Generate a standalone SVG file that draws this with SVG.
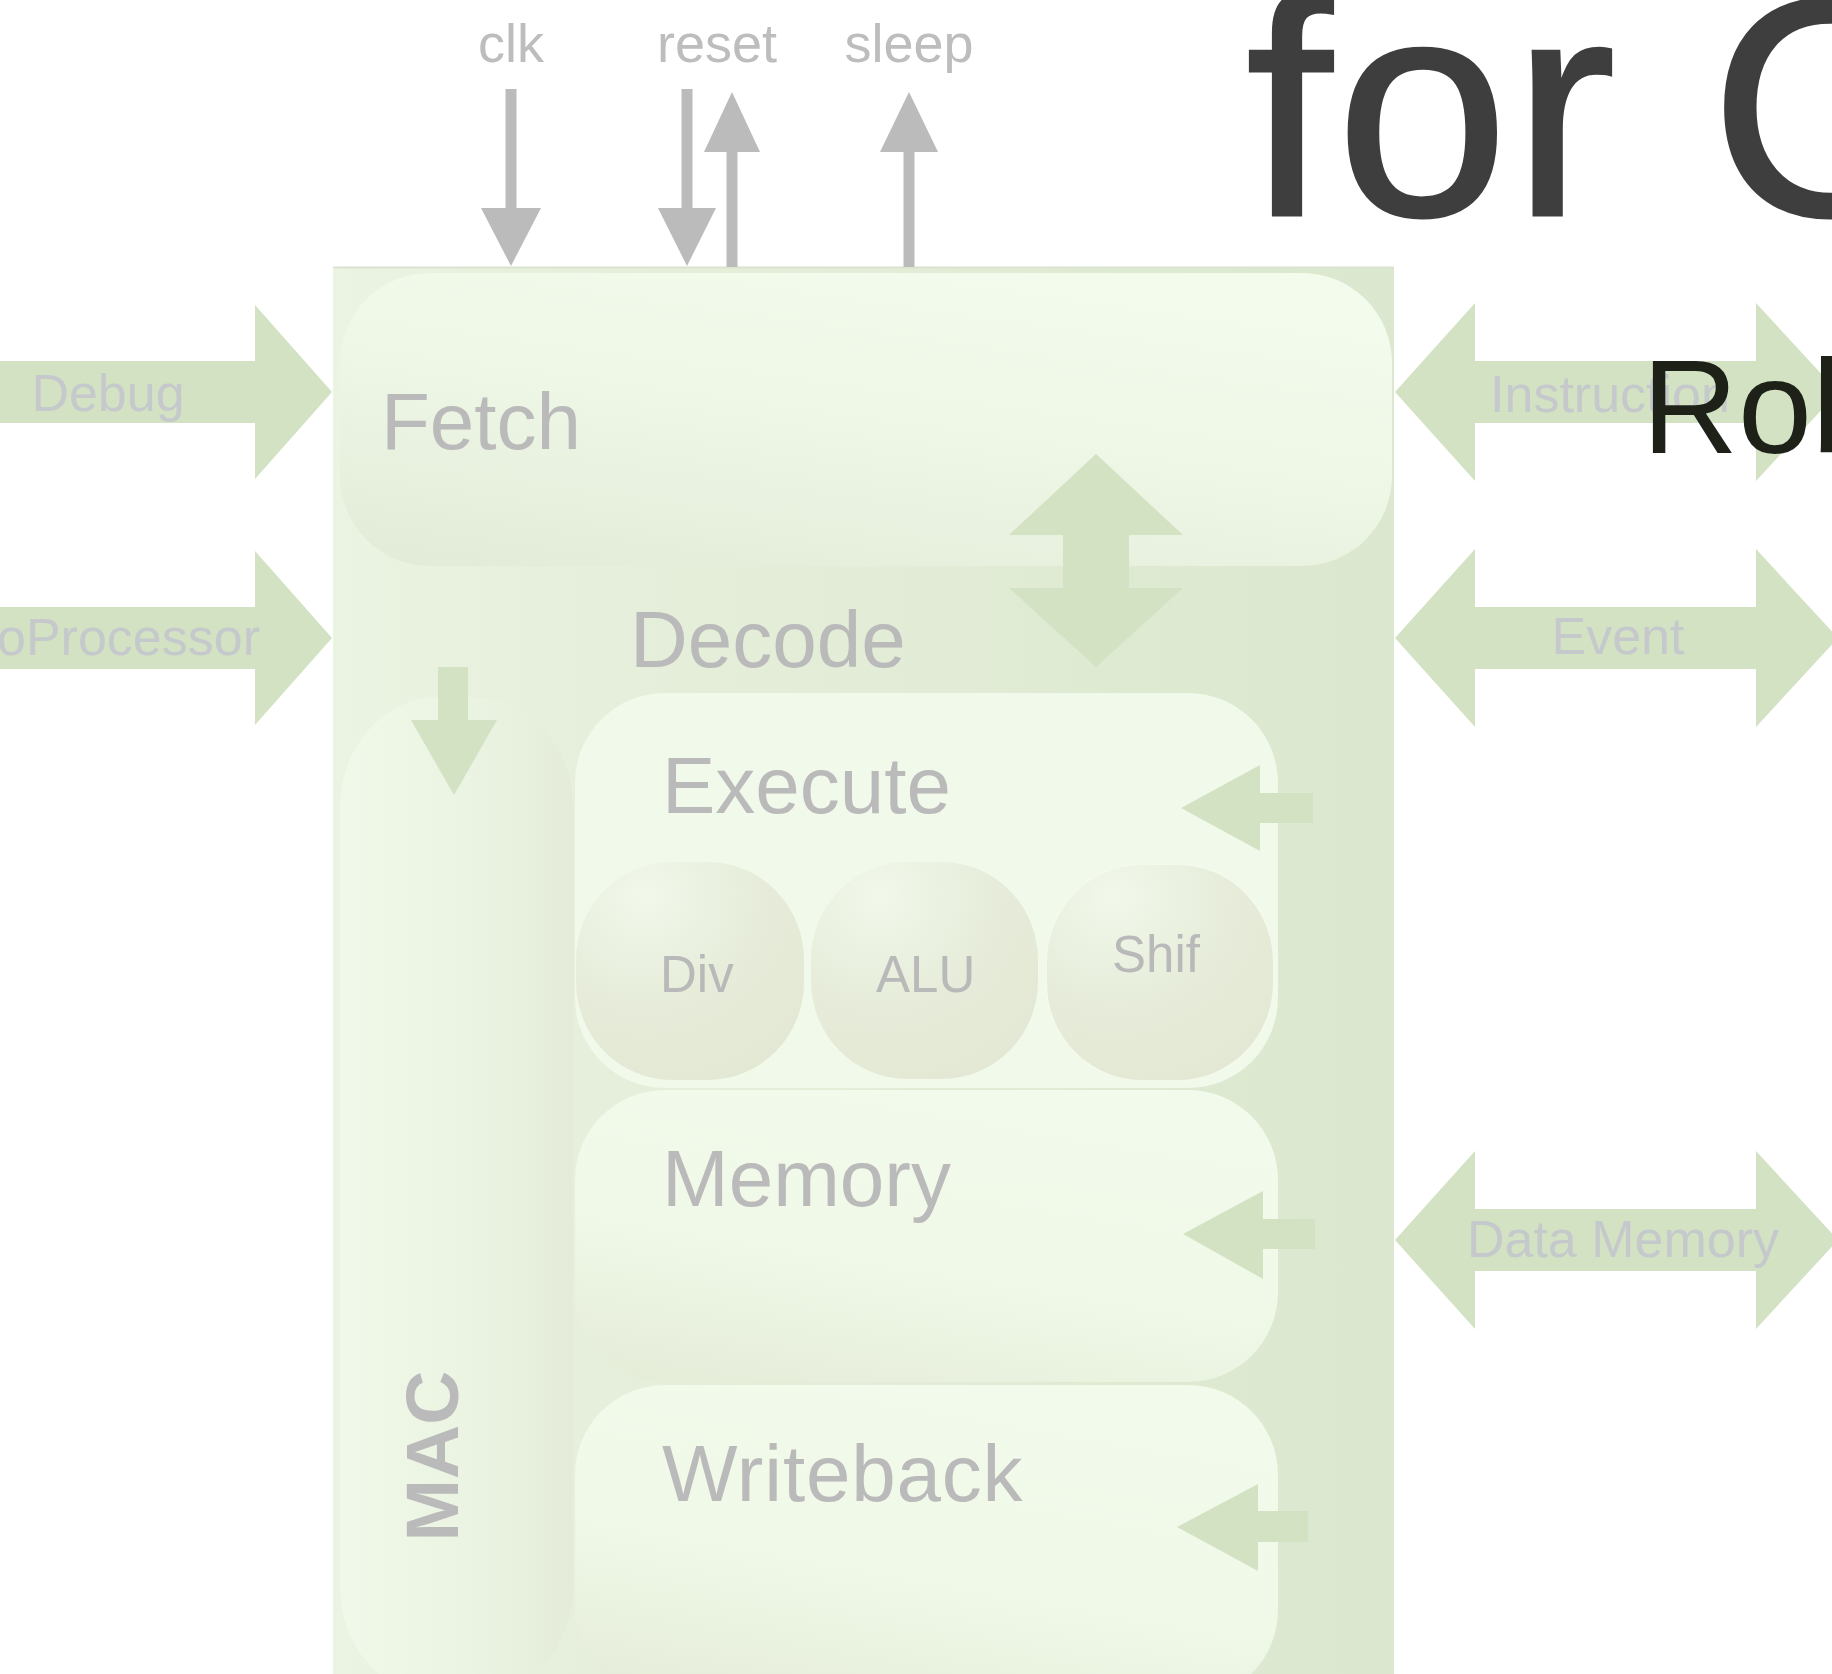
<svg xmlns="http://www.w3.org/2000/svg" width="1832" height="1674" viewBox="0 0 1832 1674">
  <defs>
    <linearGradient id="gCore" x1="0" y1="0" x2="1" y2="0">
      <stop offset="0" stop-color="#ebf3e2"/>
      <stop offset="0.25" stop-color="#e6efdb"/>
      <stop offset="1" stop-color="#dbe7ce"/>
    </linearGradient>
    <linearGradient id="gFetch" x1="0.1" y1="1" x2="0.6" y2="0">
      <stop offset="0" stop-color="#e3ecd8"/>
      <stop offset="0.55" stop-color="#eef6e6"/>
      <stop offset="1" stop-color="#f3fbec"/>
    </linearGradient>
    <linearGradient id="gStage" x1="0.1" y1="1" x2="0.5" y2="0">
      <stop offset="0" stop-color="#e5edd9"/>
      <stop offset="0.5" stop-color="#f0f8e8"/>
      <stop offset="1" stop-color="#f2faeb"/>
    </linearGradient>
    <linearGradient id="gMac" x1="0" y1="0" x2="1" y2="0">
      <stop offset="0" stop-color="#f0f8e9"/>
      <stop offset="0.55" stop-color="#ebf3e2"/>
      <stop offset="1" stop-color="#e4ecd9"/>
    </linearGradient>
    <radialGradient id="gUnit" cx="0.3" cy="0.15" r="0.95">
      <stop offset="0" stop-color="#f1f8ea"/>
      <stop offset="0.55" stop-color="#e6ecd9"/>
      <stop offset="1" stop-color="#e2e8d3"/>
    </radialGradient>
    <style>
      .stage { font-family: "Liberation Sans", Arial, sans-serif; font-size: 80px; fill: #bababa; }
      .unit { font-family: "Liberation Sans", Arial, sans-serif; font-size: 51px; fill: #b9b9b9; }
      .port { font-family: "Liberation Sans", Arial, sans-serif; font-size: 52px; fill: #c6c9cc; }
      .pin { font-family: "Liberation Sans", Arial, sans-serif; font-size: 54px; fill: #bdbdbd; }
      .bus { fill: #d3e2c3; }
      .wire { stroke: #bbbbbb; stroke-width: 11; fill: none; }
      .wirehead { fill: #bbbbbb; }
    </style>
  </defs>

  <rect width="1832" height="1674" fill="#ffffff"/>

  <!-- processor core outline -->
  <g id="core">
    <rect x="333" y="267" width="1061" height="1420" fill="url(#gCore)"/>
    <line x1="333" y1="267.5" x2="1394" y2="267.5" stroke="#d9e3cf" stroke-width="2"/>
  </g>

  <g id="fetch">
    <rect x="340" y="273" width="1052" height="293" rx="90" ry="90" fill="url(#gFetch)"/>
    <text class="stage" x="381" y="449">Fetch</text>
  </g>

  <g id="decode">
    <text class="stage" x="630" y="667">Decode</text>
  </g>

  <g id="mac">
    <rect x="340" y="697" width="233" height="1000" rx="100" ry="110" fill="url(#gMac)"/>
    <text transform="translate(458,1456) rotate(-90)" text-anchor="middle" font-family="Liberation Sans, Arial, sans-serif" font-weight="bold" font-size="75" fill="#bababa">MAC</text>
  </g>

  <g id="execute">
    <rect x="575" y="693" width="703" height="395" rx="90" ry="90" fill="#f1f9ea"/>
    <text class="stage" x="662" y="813">Execute</text>
  </g>

  <g id="div">
    <rect x="576" y="862" width="228" height="218" rx="96" ry="98" fill="url(#gUnit)"/>
    <text class="unit" x="660" y="992">Div</text>
  </g>
  <g id="alu">
    <rect x="811" y="862" width="227" height="217" rx="96" ry="98" fill="url(#gUnit)"/>
    <text class="unit" x="876" y="992">ALU</text>
  </g>
  <g id="shift">
    <rect x="1046" y="864" width="228" height="217" rx="96" ry="98" fill="url(#gUnit)" stroke="#f3faec" stroke-width="2"/>
    <text class="unit" x="1112" y="972" font-size="54">Shif</text>
  </g>

  <g id="memory">
    <rect x="575" y="1090" width="703" height="292" rx="90" ry="90" fill="url(#gStage)"/>
    <text class="stage" x="662" y="1206">Memory</text>
  </g>

  <g id="writeback">
    <rect x="575" y="1385" width="703" height="315" rx="90" ry="90" fill="url(#gStage)"/>
    <text class="stage" x="662" y="1501" letter-spacing="0.8">Writeback</text>
  </g>

  <!-- buses, signals and their labels -->
  <g id="connectors">
    <!-- control signals on top edge -->
    <line class="wire" x1="511" y1="89" x2="511" y2="212"/>
    <polygon class="wirehead" points="481,208 541,208 511,266"/>
    <line class="wire" x1="687" y1="89" x2="687" y2="212"/>
    <polygon class="wirehead" points="658,208 716,208 687,266"/>
    <line class="wire" x1="732" y1="267" x2="732" y2="148"/>
    <polygon class="wirehead" points="704,152 760,152 732,92"/>
    <line class="wire" x1="909" y1="267" x2="909" y2="148"/>
    <polygon class="wirehead" points="880,152 938,152 909,92"/>
    <text class="pin" x="511" y="62" text-anchor="middle">clk</text>
    <text class="pin" x="717" y="62" text-anchor="middle">reset</text>
    <text class="pin" x="909" y="62" text-anchor="middle">sleep</text>

    <!-- inputs on the left -->
    <polygon class="bus" points="-10,361 255,361 255,305 332,392 255,479 255,423 -10,423"/>
    <text class="port" x="108" y="411" text-anchor="middle">Debug</text>
    <polygon class="bus" points="-10,607 255,607 255,551 332,638 255,725 255,669 -10,669"/>
    <text class="port" x="260" y="655" text-anchor="end">CoProcessor</text>

    <!-- bidirectional interfaces on the right -->
    <polygon class="bus" points="1395,392 1475,303 1475,361 1756,361 1756,303 1838,392 1756,481 1756,423 1475,423 1475,481"/>
    <text class="port" x="1610" y="412" text-anchor="middle">Instruction</text>
    <polygon class="bus" points="1395,638 1475,549 1475,607 1756,607 1756,549 1838,638 1756,727 1756,669 1475,669 1475,727"/>
    <text class="port" x="1618" y="654" text-anchor="middle">Event</text>
    <polygon class="bus" points="1395,1240 1475,1151 1475,1209 1756,1209 1756,1151 1838,1240 1756,1329 1756,1271 1475,1271 1475,1329"/>
    <text class="port" x="1623" y="1257" text-anchor="middle">Data Memory</text>

    <!-- fetch / decode exchange -->
    <polygon class="bus" points="1096,454 1183,535 1129,535 1129,588 1183,588 1096,667 1009,588 1063,588 1063,535 1009,535"/>

    <!-- decode into MAC -->
    <polygon class="bus" points="438,667 468,667 468,720 497,720 454,795 411,720 438,720"/>

    <!-- register feedback into the stages -->
    <polygon class="bus" points="1181,808 1260,765 1260,793 1313,793 1313,823 1260,823 1260,851"/>
    <polygon class="bus" points="1183,1234 1263,1191 1263,1219 1315,1219 1315,1249 1263,1249 1263,1279"/>
    <polygon class="bus" points="1177,1527 1258,1484 1258,1511 1308,1511 1308,1542 1258,1542 1258,1571"/>
  </g>

  <!-- slide heading over the diagram -->
  <g id="heading">
    <text x="1246" y="215" font-family="Liberation Sans, Arial, sans-serif" font-size="310" letter-spacing="4" fill="#3e3e3e" stroke="#3e3e3e" stroke-width="3">for C</text>
    <text x="1642" y="453" font-family="Liberation Sans, Arial, sans-serif" font-size="133" fill="#1e2118">Rob</text>
  </g>
</svg>
